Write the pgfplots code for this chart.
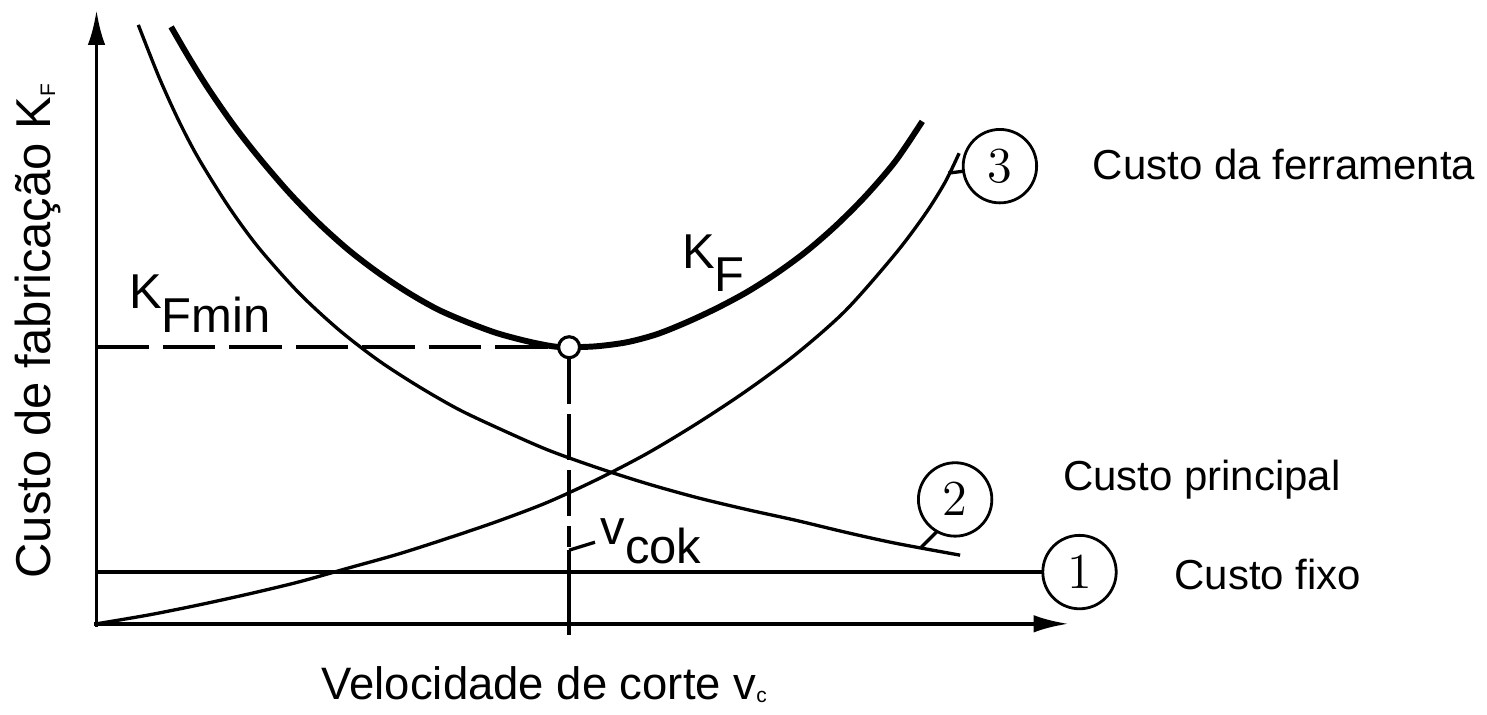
\documentclass[border=0pt]{standalone}
\usepackage{pgfplots}
\pgfplotsset{compat=1.18}
\usepackage{fontspec}
\setmainfont{Liberation Sans}
\usetikzlibrary{arrows.meta}
\tikzset{
  num/.style={draw, circle, line width=0.8pt, minimum size=21pt, inner sep=0pt,
    font=\fontsize{15}{15}\selectfont},
  lab/.style={font=\fontsize{12}{14}\selectfont}
}

% coordinates are picture pixels, y measured upward
\begin{document}
\begin{tikzpicture}
\begin{axis}[
  width=14.87cm, height=7.10cm, scale only axis,
  xmin=0, xmax=1487, ymin=0, ymax=710,
  hide axis, clip=false, no markers,
  every axis plot/.append style={black, line width=0.95pt}
]
% frame of the page
\addplot[draw=none] coordinates {(0,0) (1487,710)};

% axes
\addplot[line width=1.1pt, -{Latex[length=10pt,width=5pt]}] coordinates {(97,80) (97,700)};
\addplot[line width=1.1pt, -{Latex[length=10pt,width=5pt]}] coordinates {(94,83) (1074,83)};

% 1 fixed cost
\addplot[black] coordinates {(97,135) (1048,135)};
% 3 tool cost
\addplot[smooth] coordinates {
  (97,83) (150,92) (200,102) (250,113) (300,125) (350,139) (400,153)
  (450,169) (500,186) (550,205) (600,228) (650,254) (700,284)
  (750,317) (800,354) (850,398) (900,455) (930,495) (950,527) (964,556)
};
% 2 principal cost
\addplot[smooth] coordinates {
  (139,685) (160,632) (180,588) (200,550) (230,502) (260,461)
  (300,416) (340,379) (380,348) (420,322) (460,299) (500,280)
  (550,258) (600,240) (650,224) (700,210) (750,198) (800,187)
  (850,175) (900,164) (965,152)
};
% K_F total
\addplot[smooth, line width=1.7pt] coordinates {
  (172,683) (190,652) (210,620) (235,584) (260,552) (290,517)
  (320,486) (350,459) (380,436) (410,416) (440,399) (470,386)
  (500,375) (530,367) (555,362) (572,361) (600,362) (630,366)
  (660,374) (690,386) (720,400) (750,416) (780,435) (810,457)
  (840,483) (870,513) (900,548) (927,588)
};

% optimum
\addplot[line width=1pt, dash pattern=on 15pt off 4pt] coordinates {(97,361) (562,361)};
\addplot[line width=1pt, dash pattern=on 13pt off 3pt] coordinates {(572,350) (572,160)};
\addplot[line width=1pt] coordinates {(572,157) (572,72)};
\addplot[only marks, mark=*, mark size=3pt, mark options={fill=white, draw=black, line width=0.9pt}]
  coordinates {(572,361)};

% leaders
\addplot[black] coordinates {(572,157) (598,165)};
\addplot[black] coordinates {(953,536) (969,538)};
\addplot[black] coordinates {(926,160) (942,176)};

% numbered circles
\node[num] at (axis cs:1005,543) {$3$};
\node[num] at (axis cs:960,208) {$2$};
\node[num] at (axis cs:1085,135) {$1$};

% labels
\node[anchor=west, lab] at (axis cs:1086,545) {Custo da ferramenta};
\node[anchor=west, lab] at (axis cs:1056,228) {Custo principal};
\node[anchor=west, lab] at (axis cs:1168,133) {Custo fixo};
\node[font=\fontsize{13}{14}\selectfont] at (axis cs:548,22)
  {Velocidade de corte v{\fontsize{8}{8}\selectfont\textsubscript{c}}};
\node[rotate=90, font=\fontsize{14}{14}\selectfont] at (axis cs:38,378)
  {Custo de fabricação K{\fontsize{8}{8}\selectfont\textsubscript{F}}};

\node[anchor=base west, font=\fontsize{14}{14}\selectfont, inner sep=0pt] at (axis cs:685,440)
  {K\raisebox{-6.5pt}{F}};
\node[anchor=base west, font=\fontsize{14}{14}\selectfont, inner sep=0pt] at (axis cs:129,400)
  {K\raisebox{-7pt}{Fmin}};
\node[anchor=base west, font=\fontsize{14}{14}\selectfont, inner sep=0pt] at (axis cs:603,163)
  {v\raisebox{-5.5pt}{cok}};
\end{axis}
\end{tikzpicture}
\end{document}
